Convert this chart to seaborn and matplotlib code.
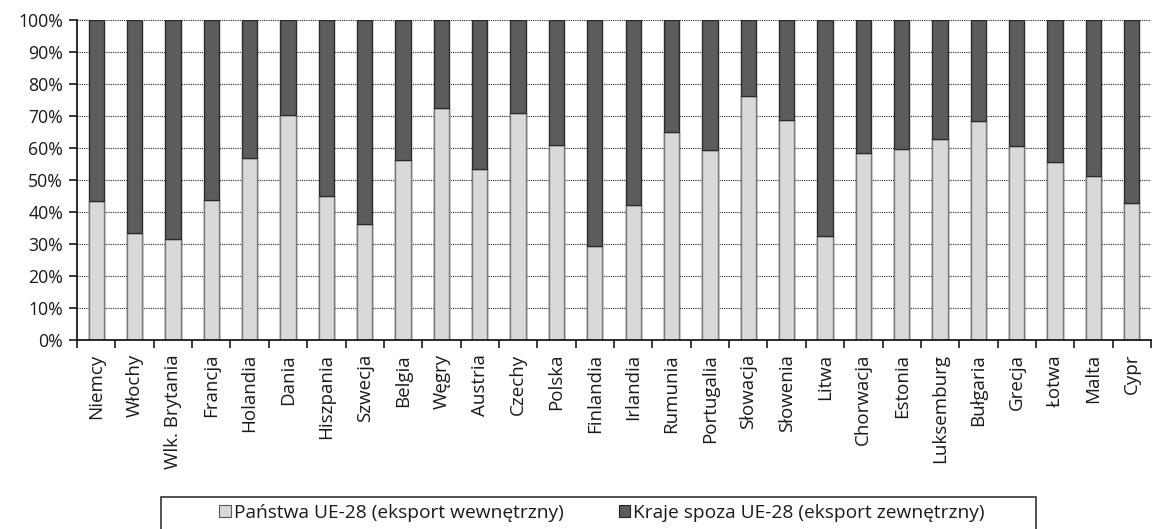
import matplotlib
matplotlib.use("Agg")
import matplotlib.pyplot as plt
from matplotlib.patches import Patch, Rectangle
from matplotlib.ticker import FixedLocator, PercentFormatter
import numpy as np
import pandas as pd
import seaborn as sns

countries = ["Niemcy", "Włochy", "Wlk. Brytania", "Francja", "Holandia", "Dania",
             "Hiszpania", "Szwecja", "Belgia", "Węgry", "Austria", "Czechy", "Polska",
             "Finlandia", "Irlandia", "Rumunia", "Portugalia", "Słowacja", "Słowenia",
             "Litwa", "Chorwacja", "Estonia", "Luksemburg", "Bułgaria", "Grecja",
             "Łotwa", "Malta", "Cypr"]
intra_eu = [43.4, 33.3, 31.6, 43.6, 56.9, 70.2, 45.0, 36.1, 56.2, 72.4, 53.4, 70.9,
            60.8, 29.5, 42.2, 64.9, 59.4, 76.2, 68.8, 32.5, 58.3, 59.6, 62.8, 68.4,
            60.6, 55.6, 51.1, 42.7]
extra_eu = [100 - v for v in intra_eu]
series_labels = ["Państwa UE-28 (eksport wewnętrzny)", "Kraje spoza UE-28 (eksport zewnętrzny)"]

light = "#d9d9da"
dark = "#5c5c5e"
ink = "#1a1a1a"

sns.set_theme(style="white")
plt.rcParams["font.family"] = ["Open Sans", "DejaVu Sans"]

df = pd.DataFrame({"kraj": countries, "wew": intra_eu, "zew": extra_eu})
df["razem"] = df["wew"] + df["zew"]

W, H = 1153, 529
fig = plt.figure(figsize=(W / 100, H / 100), dpi=100)
ax = fig.add_axes([77 / W, 1 - 340 / H, (1151 - 77) / W, 320 / H])

# stacked bars: full-height dark bar, light intra-EU share drawn on top
sns.barplot(data=df, x="kraj", y="razem", color=dark, width=0.4, ax=ax,
            edgecolor="#2a2a2a", linewidth=1.0, saturation=1, zorder=3)
sns.barplot(data=df, x="kraj", y="wew", color=light, width=0.4, ax=ax,
            edgecolor="#7a7a7a", linewidth=1.0, saturation=1, zorder=4)
for p in ax.patches[len(countries):]:
    x0 = p.get_x()
    ax.plot([x0, x0 + p.get_width()], [p.get_height(), p.get_height()],
            color="#2a2a2a", lw=1.0, zorder=5)

n = len(countries)
ax.set_xlim(-0.5, n - 0.5)
ax.set_ylim(0, 100)
ax.set_xlabel("")
ax.set_ylabel("")

ax.yaxis.set_major_locator(FixedLocator(np.arange(0, 101, 10)))
ax.yaxis.set_major_formatter(PercentFormatter(decimals=0))
ax.grid(axis="y", color="#222222", linestyle=(0, (1, 1)), linewidth=0.8, zorder=0)
ax.grid(axis="x", visible=False)

for s in ["top", "right"]:
    ax.spines[s].set_visible(False)
for s in ["left", "bottom"]:
    ax.spines[s].set_color(ink)
    ax.spines[s].set_linewidth(1.3)
    ax.spines[s].set_zorder(6)

ax.tick_params(axis="y", which="major", left=True, length=6, width=1.2,
               color=ink, labelsize=12.7, labelcolor=ink, pad=4)
ax.set_xticks(np.arange(n))
ax.set_xticklabels(countries, rotation=90, fontsize=13.5, color=ink)
ax.tick_params(axis="x", which="major", length=0, pad=10)
ax.xaxis.set_minor_locator(FixedLocator(np.arange(-0.5, n, 1.0)))
ax.tick_params(axis="x", which="minor", bottom=True, length=6, width=1.2, color=ink)

# legend below the plot, inside an open-bottomed frame
handles = [Patch(facecolor=light, edgecolor="#555555", linewidth=0.8),
           Patch(facecolor=dark, edgecolor="#222222", linewidth=0.8)]
leg = fig.legend(handles, series_labels, loc="center", ncol=2,
                 bbox_to_anchor=(602 / W, 1 - 513 / H),
                 frameon=False, fontsize=13.8,
                 handlelength=0.6, handleheight=0.6, handletextpad=0.15,
                 columnspacing=2.9, borderpad=0.0)
for t in leg.get_texts():
    t.set_color(ink)
fig.patches.append(Rectangle((161 / W, -0.01), (1036 - 161) / W, 0.01 + (H - 497) / H,
                             transform=fig.transFigure, fill=False,
                             edgecolor="#333333", linewidth=1.2))

fig.savefig("out.png", dpi=100)
